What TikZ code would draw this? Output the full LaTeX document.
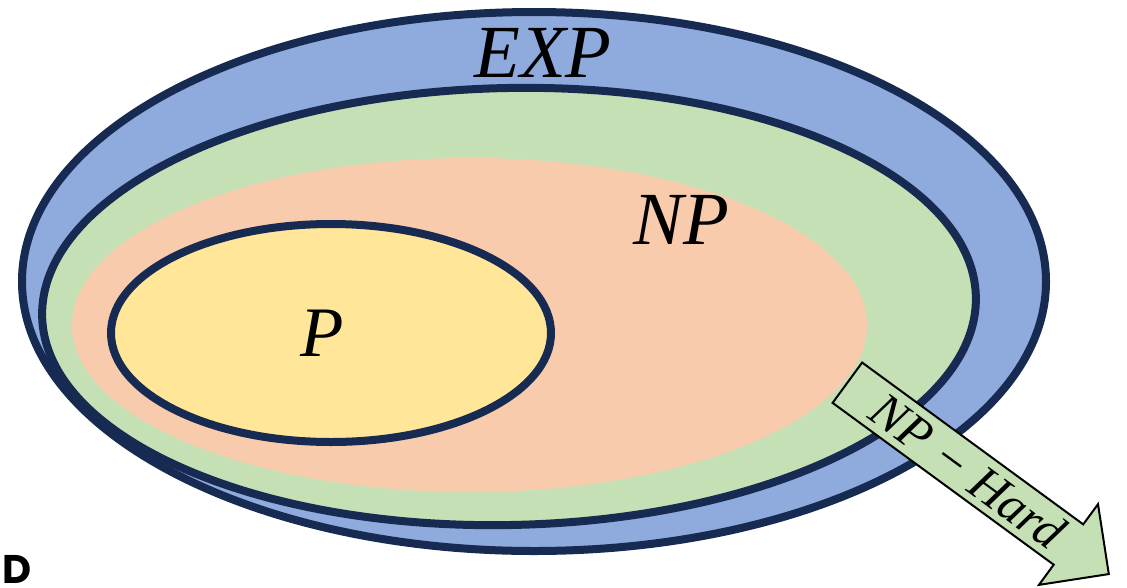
\documentclass[tikz,border=0pt]{standalone}
\usepackage{fontspec}
\setmainfont{Liberation Serif}
\newfontfamily\dfont{Poppins}
\usetikzlibrary{shapes.arrows}
\definecolor{expblue}{HTML}{8FAADC}
\definecolor{npgreen}{HTML}{C5E0B4}
\definecolor{npcsalmon}{HTML}{F8CBAD}
\definecolor{pyellow}{HTML}{FFE699}
\definecolor{navy}{HTML}{172B52}
\begin{document}
\begin{tikzpicture}[x=1pt,y=-1pt,
  setline/.style={draw=navy,line width=8pt},
  lbl/.style={inner sep=0pt,text=black}]
\useasboundingbox (0,0) rectangle (1127,587);
\fill[white] (0,0) rectangle (1127,587);
% EXP
\draw[setline,fill=expblue] (534,281.5) ellipse [x radius=512, y radius=269.5];
% NP
\draw[setline,fill=npgreen,rotate around={1.2:(509,306.5)}] (509,306.5) ellipse [x radius=467, y radius=218.5];
% NP-complete region
\fill[npcsalmon] (469.5,325) ellipse [x radius=397.5, y radius=167];
% P
\draw[setline,fill=pyellow] (331,333) ellipse [x radius=220, y radius=109];
% labels
\node[lbl,font=\fontsize{75}{75}\selectfont\itshape] (exp) at (543,53) {EXP};
\node[lbl,font=\fontsize{75}{75}\selectfont\itshape] (np) at (681,220) {NP};
\node[lbl,font=\fontsize{71}{71}\selectfont\itshape] (p) at (322,333) {P};
% NP-Hard arrow
\node[single arrow,draw=black,line width=2pt,fill=npgreen,
      minimum height=324pt,minimum width=99pt,
      single arrow head extend=25pt,single arrow head indent=0pt,
      inner sep=0pt,rotate=-36.2,
      font=\fontsize{50}{50}\selectfont\itshape] (hard) at (968,471)
      {\rule[-7pt]{0pt}{48pt}NP − Hard\hspace{24pt}};
% panel letter
\node[lbl,anchor=base west,font=\dfont\bfseries\fontsize{40}{40}\selectfont] (letter) at (2,583) {D};
\end{tikzpicture}
\end{document}
